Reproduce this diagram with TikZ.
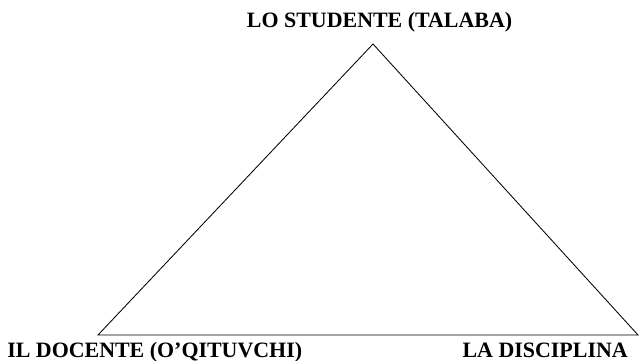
\documentclass[tikz,border=0pt]{standalone}
\usepackage{fontspec}
\setmainfont{Liberation Serif}
\tikzset{lbl/.style={font=\fontsize{15.6}{18}\selectfont\bfseries, inner sep=0pt}}
\begin{document}
\begin{tikzpicture}
\useasboundingbox (0,0) rectangle (16,9);
\coordinate (s) at (9.325,7.9);
\coordinate (d) at (2.45,0.625);
\coordinate (c) at (15.95,0.625);
\node[lbl,anchor=base] (ls) at (9.49,8.3) {LO STUDENTE (TALABA)};
\node[lbl,anchor=base west] (ld) at (0.175,0.075) {IL DOCENTE (O'QITUVCHI)};
\node[lbl,anchor=base east] (lc) at (15.7,0.075) {LA DISCIPLINA};
\path[draw,line width=0.6pt] (d) -- (s) -- (c) -- cycle;
\end{tikzpicture}
\end{document}
